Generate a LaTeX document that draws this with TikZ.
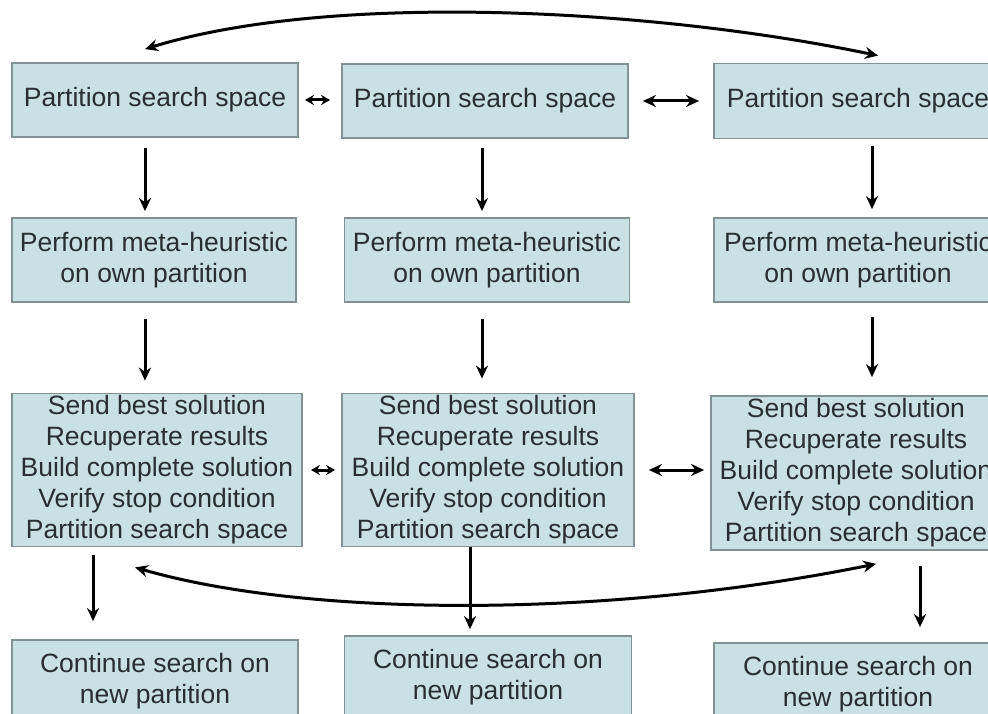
\documentclass[tikz,border=0pt]{standalone}
\usepackage{fontspec}
\setmainfont{Liberation Sans}
\usetikzlibrary{arrows.meta}
\definecolor{boxfill}{RGB}{201,224,228}
\definecolor{boxline}{RGB}{130,146,148}
\definecolor{txt}{RGB}{40,46,50}
\tikzset{
  stepbox/.style={draw=boxline, line width=1.8pt, fill=boxfill, text=txt,
    font=\fontsize{26.5}{31}\selectfont, align=center, inner sep=0pt, anchor=center},
  arr/.style={line width=3pt, -{Stealth[length=13pt,width=12pt]}},
  darr/.style={line width=3pt, {Stealth[length=13pt,width=12pt]}-{Stealth[length=13pt,width=12pt]}},
  sdarr/.style={line width=3pt, {Stealth[length=9pt,width=10pt]}-{Stealth[length=9pt,width=10pt]}},
}
\begin{document}
\begin{tikzpicture}[x=1pt,y=-1pt]
\useasboundingbox (0,0) rectangle (988,714);
\fill[white] (0,0) rectangle (988,714);
% row 1
\node[stepbox, minimum width=286pt, minimum height=74pt] (a1) at (155,100) {Partition search space};
\node[stepbox, minimum width=286pt, minimum height=74pt] (b1) at (485,101) {Partition search space};
\node[stepbox, minimum width=288pt, minimum height=75pt] (c1) at (858,101) {Partition search space};
% row 2
\node[stepbox, minimum width=284pt, minimum height=84pt] (a2) at (154,260) {Perform meta-heuristic\\on own partition};
\node[stepbox, minimum width=285pt, minimum height=84pt] (b2) at (487,260) {Perform meta-heuristic\\on own partition};
\node[stepbox, minimum width=288pt, minimum height=84pt] (c2) at (858,260) {Perform meta-heuristic\\on own partition};
% row 3
\node[stepbox, minimum width=290pt, minimum height=153pt] (a3) at (157,470) {Send best solution\\Recuperate results\\Build complete solution\\Verify stop condition\\Partition search space};
\node[stepbox, minimum width=292pt, minimum height=153pt] (b3) at (488,470) {Send best solution\\Recuperate results\\Build complete solution\\Verify stop condition\\Partition search space};
\node[stepbox, minimum width=290pt, minimum height=154pt] (c3) at (856,473) {Send best solution\\Recuperate results\\Build complete solution\\Verify stop condition\\Partition search space};
% row 4
\node[stepbox, minimum width=286pt, minimum height=82pt] (a4) at (155,681) {Continue search on\\new partition};
\node[stepbox, minimum width=287pt, minimum height=82pt] (b4) at (488,677) {Continue search on\\new partition};
\node[stepbox, minimum width=288pt, minimum height=82pt] (c4) at (858,684) {Continue search on\\new partition};
% vertical arrows
\draw[arr, shorten <=10pt, shorten >=6pt] ([xshift=-10pt]a1.south) -- ([xshift=-10pt]a1.south |- a2.north);
\draw[arr, shorten <=9pt, shorten >=6pt] ([xshift=-3pt]b1.south) -- ([xshift=-3pt]b1.south |- b2.north);
\draw[arr, shorten <=7pt, shorten >=8pt] ([xshift=14pt]c1.south) -- ([xshift=14pt]c1.south |- c2.north);
\draw[arr, shorten <=16pt, shorten >=12pt] ([xshift=-9pt]a2.south) -- ([xshift=-9pt]a2.south |- a3.north);
\draw[arr, shorten <=16pt, shorten >=14pt] ([xshift=-5pt]b2.south) -- ([xshift=-5pt]b2.south |- b3.north);
\draw[arr, shorten <=14pt, shorten >=18pt] ([xshift=14pt]c2.south) -- ([xshift=14pt]c2.south |- c3.north);
\draw[arr, shorten <=8pt, shorten >=18pt] ([xshift=-64pt]a3.south) -- ([xshift=-64pt]a3.south |- a4.north);
\draw[arr, shorten <=0pt, shorten >=6pt] ([xshift=-18pt]b3.south) -- ([xshift=-18pt]b3.south |- b4.north);
\draw[arr, shorten <=15pt, shorten >=15pt] ([xshift=64pt]c3.south) -- ([xshift=64pt]c3.south |- c4.north);
% horizontal double arrows
\draw[sdarr, shorten <=6pt, shorten >=11pt] (a1.east) -- (a1.east -| b1.west);
\draw[darr, shorten <=14pt, shorten >=14pt] (b1.east) -- (b1.east -| c1.west);
\draw[sdarr, shorten <=8pt, shorten >=6pt] (a3.east) -- (a3.east -| b3.west);
\draw[darr, shorten <=14pt, shorten >=6pt] (b3.east) -- (b3.east -| c3.west);
% top curve
\draw[darr] ([xshift=-10pt,yshift=13pt]a1.north) .. controls (330,-8) and (650,8) .. ([xshift=20pt,yshift=7pt]c1.north);
% bottom curve
\draw[darr] ([xshift=-22pt,yshift=-20pt]a3.south) .. controls (310,618) and (610,618) .. ([xshift=20pt,yshift=-13pt]c3.south);
\end{tikzpicture}
\end{document}
